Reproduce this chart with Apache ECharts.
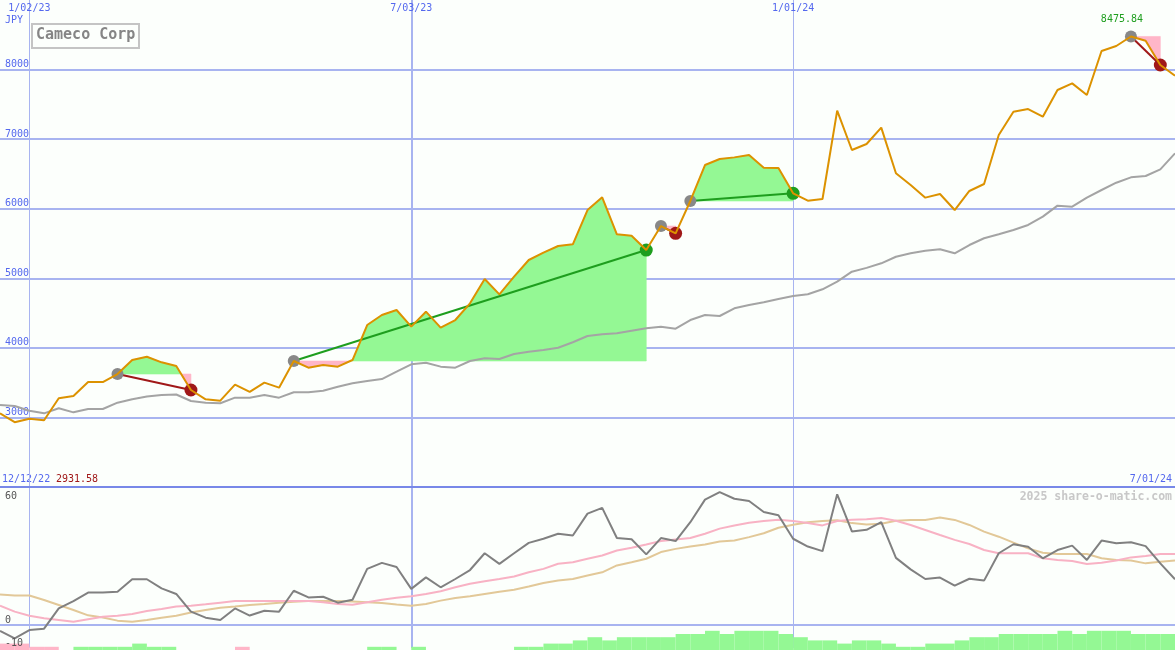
<!DOCTYPE html>
<html><head><meta charset="utf-8">
<script src="https://cdn.jsdelivr.net/npm/echarts@6/dist/echarts.min.js"></script>
<style>html,body{margin:0;padding:0;background:#fcfffc;}#c{width:1175px;height:650px;}</style>
</head><body><div id="c"></div>
<script>
// ---------------- data ----------------
const stockName = 'Cameco Corp';
const currency = 'JPY';
const firstDateLabel = '12/12/22';
const watermark = '2025 share-o-matic.com';
const startDate = [2022, 11, 19]; // first weekly point (Mon 12/19/22)
const markedDates = ['1/02/23', '7/03/23', '1/01/24'];
const thinLineDates = ['1/02/23', '1/01/24'];
const thickLineDates = ['7/03/23'];

const price = [
  3059, 2931.58, 2982, 2959, 3275, 3308, 3509, 3509, 3624, 3825,
  3873, 3792, 3739, 3394, 3260, 3241, 3471, 3366, 3500, 3428,
  3811, 3715, 3753, 3730, 3825, 4328, 4472, 4544, 4305, 4520,
  4290, 4400, 4640, 4990, 4769, 5023, 5263, 5368, 5464, 5488,
  5981, 6164, 5632, 5612, 5406, 5751, 5646, 6111, 6628, 6714,
  6738, 6772, 6590, 6585, 6221, 6115, 6140, 7409, 6844, 6930,
  7165, 6509, 6341, 6159, 6211, 5981, 6255, 6355, 7060, 7395,
  7433, 7323, 7706, 7802, 7634, 8267, 8339, 8475.84, 8415, 8066,
  7912
];
const movingAvg = [
  3178, 3164, 3097, 3059, 3131, 3073, 3121, 3121, 3212, 3260,
  3300, 3322, 3330, 3236, 3212, 3203, 3284, 3284, 3322, 3284,
  3361, 3361, 3384, 3442, 3490, 3524, 3552, 3657, 3763, 3787,
  3730, 3715, 3811, 3850, 3840, 3912, 3945, 3969, 4002, 4080,
  4170, 4195, 4209, 4247, 4281, 4304, 4276, 4400, 4472, 4458,
  4568, 4616, 4655, 4702, 4745, 4770, 4842, 4951, 5095, 5150,
  5215, 5310, 5359, 5397, 5417, 5359, 5478, 5575, 5632, 5694,
  5766, 5886, 6044, 6029, 6159, 6269, 6374, 6451, 6470, 6566,
  6796
];
const oscillator = [
  -2.6, -5.8, -2.2, -1.6, 7.2, 10.4, 14.1, 14.1, 14.5, 19.9,
  19.9, 15.9, 13.5, 5.8, 3.2, 2.2, 7.2, 4.1, 6.2, 5.8,
  14.9, 12.0, 12.3, 9.7, 11.0, 24.4, 27.0, 25.2, 15.7, 20.7,
  16.4, 20.0, 23.9, 31.2, 26.6, 31.2, 35.7, 37.5, 39.7, 38.9,
  48.4, 50.9, 37.8, 37.3, 30.7, 37.8, 36.5, 44.7, 54.5, 57.8,
  54.9, 53.9, 49.1, 47.7, 37.5, 34.1, 32.1, 56.8, 40.7, 41.4,
  44.7, 29.2, 24.2, 20.0, 20.6, 17.1, 20.1, 19.3, 31.2, 35.1,
  34.0, 29.0, 32.6, 34.5, 28.3, 36.7, 35.5, 36.0, 34.3, 26.8,
  19.9
];
const signalPink = [
  8.4, 5.8, 4.0, 2.9, 2.2, 1.4, 2.5, 3.6, 4.0, 4.8,
  6.1, 7.0, 8.0, 8.4, 9.0, 9.7, 10.4, 10.4, 10.4, 10.4,
  10.4, 10.4, 9.9, 9.1, 8.8, 9.9, 11.0, 11.8, 12.5, 13.5,
  14.7, 16.4, 17.9, 19.0, 20.0, 21.1, 22.9, 24.4, 26.6, 27.3,
  28.8, 30.2, 32.4, 33.6, 35.0, 36.5, 37.2, 37.8, 39.7, 41.9,
  43.3, 44.5, 45.2, 45.8, 45.2, 44.3, 43.3, 45.2, 45.8, 46.0,
  46.5, 45.3, 43.5, 41.3, 39.1, 37.0, 35.2, 32.6, 31.2, 31.2,
  31.2, 29.0, 28.3, 27.8, 26.5, 27.1, 28.0, 29.4, 30.0, 30.9,
  30.9
];
const signalTan = [
  13.3, 12.8, 12.8, 10.9, 8.7, 6.5, 4.2, 3.3, 1.9, 1.4,
  2.2, 3.2, 4.0, 5.4, 6.5, 7.5, 8.0, 8.7, 9.1, 9.7,
  10.1, 10.4, 10.4, 10.4, 10.2, 9.9, 9.6, 8.9, 8.4, 9.1,
  10.6, 11.7, 12.5, 13.5, 14.5, 15.3, 16.7, 18.3, 19.3, 20.0,
  21.5, 22.9, 25.9, 27.3, 28.8, 31.7, 33.1, 34.1, 35.0, 36.3,
  36.7, 38.2, 39.9, 42.3, 43.6, 44.7, 45.2, 45.5, 44.3, 43.7,
  44.0, 45.3, 45.7, 45.7, 46.7, 45.7, 43.5, 40.6, 38.4, 35.8,
  33.3, 31.4, 30.9, 30.9, 30.9, 29.0, 28.3, 28.0, 26.8, 27.5,
  28.0
];
const histogram = [
  -2, -2, -1, -1, 0, 1, 1, 1, 1, 2,
  1, 1, 0, 0, 0, 0, -1, 0, 0, 0,
  0, 0, 0, 0, 0, 1, 1, 0, 1, 0,
  0, 0, 0, 0, 0, 1, 1, 2, 2, 3,
  4, 3, 4, 4, 4, 4, 5, 5, 6, 5,
  6, 6, 6, 5, 4, 3, 3, 2, 3, 3,
  2, 1, 1, 2, 2, 3, 4, 4, 5, 5,
  5, 5, 6, 5, 6, 6, 6, 5, 5, 5
];
const tradeEntries = [8, 20, 45, 47, 77];
const tradeExits = [13, 44, 46, 54, 79];

// ---------------- styles ----------------
const MONO = "'DejaVu Sans Mono', monospace";
const C = {
  axisBlue: '#5468ee', grid: '#a8b4f0', divider: '#7888e8',
  orange: '#dc9200', ma: '#a4a4a4', osc: '#808080', pink: '#f8b2c4', tan: '#e2c898',
  fillGreen: '#94f894', fillPink: '#ffb6c8', win: '#1e9e1e', loss: '#a01818', entry: '#888888'
};

function fmtDate(d) {
  return (d.getUTCMonth() + 1) + '/' + String(d.getUTCDate()).padStart(2, '0') + '/' + String(d.getUTCFullYear()).slice(2);
}
const t0 = Date.UTC(startDate[0], startDate[1], startDate[2]);
const dates = price.map((_, i) => fmtDate(new Date(t0 + i * 7 * 86400000)));
const isIn = arr => (i) => arr.indexOf(dates[i]) >= 0;

// fill between price and entry level, merged into runs of same sign
function fillRender(params, api) {
  const e = api.value(0), x = api.value(1);
  const level = price[e];
  const children = [];
  const close = (pts, up) => children.push({ type: 'polygon', shape: { points: pts },
    style: { fill: up ? C.fillGreen : C.fillPink, stroke: up ? C.fillGreen : C.fillPink, lineWidth: 0.6 } });
  let cur = { up: null, pts: [api.coord([e, level]), api.coord([e, price[e]])] };
  for (let k = e; k < x; k++) {
    const a = price[k] - level, b = price[k + 1] - level;
    const P1 = api.coord([k + 1, price[k + 1]]);
    if ((a > 0 && b < 0) || (a < 0 && b > 0)) {
      const L0 = api.coord([k, level]), L1 = api.coord([k + 1, level]);
      const t = a / (a - b);
      const Xc = [L0[0] + (L1[0] - L0[0]) * t, L0[1]];
      cur.pts.push(Xc);
      close(cur.pts, a > 0);
      cur = { up: b > 0, pts: [Xc, P1] };
    } else {
      cur.pts.push(P1);
      if (cur.up === null && a + b !== 0) cur.up = a + b > 0;
    }
  }
  cur.pts.push(api.coord([x, level]));
  close(cur.pts, cur.up !== false);
  return { type: 'group', children };
}
function tradeRender(params, api) {
  const e = api.value(0), x = api.value(1);
  const win = price[x] > price[e];
  const A = api.coord([e, price[e]]), B = api.coord([x, price[x]]);
  const col = win ? C.win : C.loss;
  return { type: 'group', children: [
    { type: 'line', shape: { x1: A[0], y1: A[1], x2: B[0], y2: B[1] }, style: { stroke: col, lineWidth: 2 } },
    { type: 'circle', shape: { cx: A[0], cy: A[1], r: 6 }, style: { fill: C.entry } },
    { type: 'circle', shape: { cx: B[0], cy: B[1], r: 6.5 }, style: { fill: col } }
  ]};
}

const minPrice = Math.min(...price);
const chart = echarts.init(document.getElementById('c'));
chart.setOption({
  animation: false,
  backgroundColor: '#fcfffc',
  title: {
    text: stockName, left: 32, top: 24, padding: [4, 4, 5, 4],
    borderColor: '#c4c4c4', borderWidth: 2,
    textStyle: { fontFamily: MONO, fontSize: 15, fontWeight: 'bold', color: '#858585' }
  },
  grid: [
    { left: 0, right: 0, top: 0, height: 487 },
    { left: 0, right: 0, top: 487, height: 161 },
    { left: 0, right: 0, bottom: 0, height: 19.2 }
  ],
  xAxis: [
    { gridIndex: 0, type: 'category', data: dates, boundaryGap: false, position: 'top',
      axisLine: { show: false }, axisTick: { show: false },
      axisLabel: { inside: true, margin: 3, interval: isIn(markedDates), color: C.axisBlue, fontFamily: MONO, fontSize: 10 },
      splitLine: { show: true, interval: isIn(thinLineDates), lineStyle: { color: C.grid, width: 1 } } },
    { gridIndex: 0, type: 'category', data: dates, boundaryGap: false, position: 'bottom',
      axisLine: { show: false }, axisTick: { show: false }, axisLabel: { show: false },
      splitLine: { show: true, interval: isIn(thickLineDates), lineStyle: { color: C.grid, width: 2 } } },
    { gridIndex: 1, type: 'category', data: dates, boundaryGap: false, position: 'top',
      axisLine: { show: true, onZero: false, lineStyle: { color: C.divider, width: 2 } }, axisTick: { show: false }, axisLabel: { show: false },
      splitLine: { show: true, interval: isIn(thinLineDates), lineStyle: { color: C.grid, width: 1 } } },
    { gridIndex: 1, type: 'category', data: dates, boundaryGap: false, position: 'bottom',
      axisLine: { show: true, onZero: true, lineStyle: { color: C.grid, width: 2 } }, axisTick: { show: false }, axisLabel: { show: false },
      splitLine: { show: true, interval: isIn(thickLineDates), lineStyle: { color: C.grid, width: 2 } } },
    { gridIndex: 2, type: 'category', data: dates.slice(0, histogram.length), boundaryGap: true, show: false }
  ],
  yAxis: [
    { gridIndex: 0, type: 'value', min: 2000, max: 9000, interval: 1000, position: 'left',
      axisLine: { show: false }, axisTick: { show: false },
      axisLabel: { inside: true, margin: 5, showMinLabel: false, showMaxLabel: false, verticalAlign: 'bottom', color: C.axisBlue, fontFamily: MONO, fontSize: 10,
        formatter: v => String(v) },
      splitLine: { show: true, showMinLine: false, showMaxLine: false, lineStyle: { color: C.grid, width: 2 } } },
    { gridIndex: 1, type: 'value', min: -10, max: 60, interval: 10, position: 'left', z: 10,
      axisLine: { show: false }, axisTick: { show: false }, splitLine: { show: false },
      axisLabel: { inside: true, margin: 5, verticalAlign: 'bottom', color: '#555', fontFamily: MONO, fontSize: 10,
        formatter: v => (v === 0 || v === -10) ? String(v) : '' } },
    { gridIndex: 1, type: 'value', min: -10, max: 60, interval: 10, position: 'left', offset: 0, z: 10,
      axisLine: { show: false }, axisTick: { show: false }, splitLine: { show: false },
      axisLabel: { inside: true, margin: 5, verticalAlign: 'top', padding: [4, 0, 0, 0], color: '#555', fontFamily: MONO, fontSize: 10,
        formatter: v => v === 60 ? '60' : '' } },
    { gridIndex: 2, type: 'value', min: 0, max: 6, show: false }
  ],
  series: [
    { type: 'custom', xAxisIndex: 0, yAxisIndex: 0, z: 1, renderItem: fillRender,
      data: tradeEntries.map((e, i) => [e, tradeExits[i]]), silent: true },
    { type: 'line', xAxisIndex: 0, yAxisIndex: 0, z: 2, data: movingAvg, showSymbol: false,
      lineStyle: { color: C.ma, width: 2 } },
    { type: 'custom', xAxisIndex: 0, yAxisIndex: 0, z: 3, renderItem: tradeRender,
      data: tradeEntries.map((e, i) => [e, tradeExits[i]]), silent: true },
    { type: 'line', xAxisIndex: 0, yAxisIndex: 0, z: 4, data: price, showSymbol: false,
      lineStyle: { color: C.orange, width: 2 },
      markPoint: { symbol: 'circle', symbolSize: 0, data: [{ type: 'max' }],
        label: { show: true, position: 'top', distance: 12, offset: [-9, 0], color: C.win, fontFamily: MONO, fontSize: 10,
          formatter: p => Number(p.value).toFixed(2) } } },
    { type: 'line', xAxisIndex: 2, yAxisIndex: 1, data: signalTan, showSymbol: false, lineStyle: { color: C.tan, width: 2 } },
    { type: 'line', xAxisIndex: 2, yAxisIndex: 1, data: signalPink, showSymbol: false, lineStyle: { color: C.pink, width: 2 } },
    { type: 'line', xAxisIndex: 2, yAxisIndex: 1, data: oscillator, showSymbol: false, lineStyle: { color: C.osc, width: 2 } },
    { type: 'bar', xAxisIndex: 4, yAxisIndex: 3, barCategoryGap: '0%', z: 1,
      data: histogram.map(v => ({ value: Math.abs(v), itemStyle: { color: v < 0 ? C.fillPink : C.fillGreen } })) }
  ],
  graphic: [
    { type: 'text', left: 5, top: 15, style: { text: currency, fill: C.axisBlue, font: '10px ' + MONO } },
    { type: 'text', left: 2, top: 474, style: { text: firstDateLabel, fill: C.axisBlue, font: '10px ' + MONO } },
    { type: 'text', left: 56, top: 474, style: { text: minPrice.toFixed(2), fill: C.loss, font: '10px ' + MONO } },
    { type: 'text', right: 3, top: 474, style: { text: dates[dates.length - 1], fill: C.axisBlue, font: '10px ' + MONO } },
    { type: 'text', right: 3, top: 491, style: { text: watermark, fill: '#c8c8c8', font: 'bold 11.5px ' + MONO } }
  ]
});
</script></body></html>
